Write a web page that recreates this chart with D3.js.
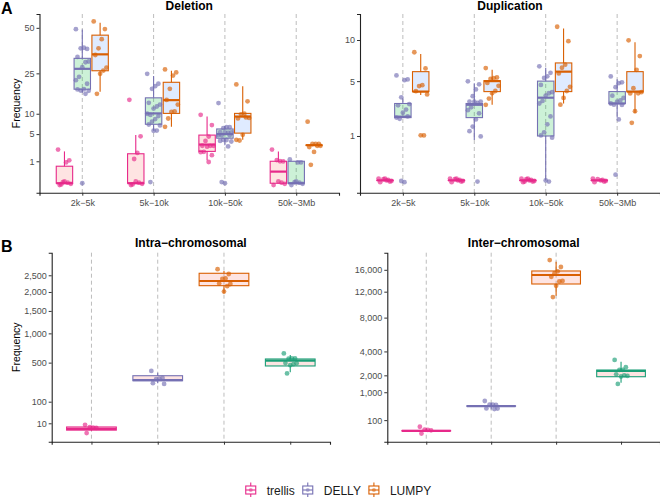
<!DOCTYPE html>
<html>
<head>
<meta charset="utf-8">
<script src="https://cdn.jsdelivr.net/npm/d3@7"></script>
<style>
  body { margin: 0; background: #fff; }
  svg { display: block; font-family: "Liberation Sans", Arial, sans-serif; }
</style>
</head>
<body>
<svg id="chart" width="660" height="498"></svg>
<script>
// categories
var sizeBins = ["2k\u22125k", "5k\u221210k", "10k\u221250k", "50k\u22123Mb"];
var methods = ["trellis", "DELLY", "LUMPY"];
var methodsB = ["trellis", "DELLY", "LUMPY", "method4"];

// tick labels
var delTicks = [1, 5, 10, 25, 50];
var dupTicks = [1, 5, 10];
var intraTicks = [10, 100, 500, 1000, 1500, 2000, 2500];
var interTicks = [100, 1000, 2000, 4000, 8000, 12000, 16000];

// box stats per size bin: [lower whisker, q1, median, q3, upper whisker]
var delBoxTrellis = [[0, 0, 0, 0.6, 2.1], [0, 0, 0, 1.8, 4.8], [1.1, 2.1, 3.1, 4.8, 9.2], [0, 0, 0.28, 1.0, 2.1]];
var delBoxDelly   = [[17, 18.3, 27.1, 32.3, 49], [5.7, 7.2, 10.1, 15.1, 23.8], [3.0, 4.2, 5.0, 6.1, 6.8], [0, 0, 0, 1.0, 1.0]];
var delBoxLumpy   = [[17.3, 26.2, 34.4, 45.4, 53.3], [6.6, 10.1, 14.3, 21.1, 26.2], [3.9, 5.2, 9.2, 10.1, 19.5], [3, 3, 3, 3, 3]];

var delPtsTrellis = [[2.1, 1.2, 0.9, 0, 0, 0, 0, 0, 0], [13.8, 4.8, 1.9, 1.1, 0, 0, 0, 0, 0],
                     [9.2, 7.3, 4.5, 3.5, 3.2, 3, 2.8, 2.5, 2.2, 2, 1.5, 1.1], [2.1, 1.1, 1.0, 1.0, 0, 0, 0, 0]];
var delPtsDelly   = [[48, 38, 38, 37, 34, 31, 30, 27, 24, 22, 20, 19, 18, 18, 17, 17, 0],
                     [24, 21, 19.5, 18, 14, 13, 12, 11, 10, 10, 9, 9, 8, 7, 6.5, 6, 5.7, 0],
                     [12.7, 6.8, 6.5, 6, 5.8, 5.5, 5.2, 5, 5, 4.8, 4.5, 4.2, 4, 3.6, 3.3, 3, 0, 0],
                     [1.0, 1.0, 0.9, 0, 0, 0, 0, 0]];
var delPtsLumpy   = [[53, 50, 43, 37, 35, 28, 26, 24, 17], [26, 26, 24, 18, 15, 13, 10.5, 10, 9, 6.6],
                     [19.5, 14.3, 10, 9.5, 9.2, 9, 8.8, 4.5, 4, 3.9], [7.4, 3.4, 3.2, 3, 3, 3, 2.8, 1.8, 0.8]];

var dupBoxTrellis = [[0, 0, 0, 0, 0], [0, 0, 0, 0, 0], [0, 0, 0, 0, 0], [0, 0, 0, 0, 0]];
var dupBoxDelly   = [[2.0, 2.0, 2.06, 3.0, 3.4], [0.83, 2.0, 2.9, 3.0, 4.8], [0, 1.0, 3.47, 5.0, 6.45], [2.0, 3.0, 3.0, 4.0, 5.2]];
var dupBoxLumpy   = [[3.7, 4.0, 4.0, 6.0, 8.1], [2.9, 4.0, 5.0, 5.05, 6.2], [3.0, 4.0, 6.0, 7.0, 11.7], [2.3, 4.0, 4.0, 6.0, 9.7]];

var dupPtsTrellis = [[0, 0, 0, 0, 0, 0, 0, 0], [0, 0, 0, 0, 0, 0, 0, 0], [0, 0, 0, 0, 0, 0, 0, 0, 0], [0, 0, 0, 0, 0, 0, 0]];
var dupPtsDelly   = [[5.4, 5.3, 5.1, 3.4, 3.0, 3.0, 2.5, 2.2, 2.0, 2.0, 2.0, 0, 0],
                     [4.8, 4.8, 4.2, 3.5, 3.3, 3.2, 3.0, 3.0, 2.8, 2.5, 2.2, 2.0, 1.5, 1.2, 0.9, 0],
                     [6.4, 6.0, 5.5, 5.2, 4.8, 4.0, 3.8, 3.5, 3.3, 3.0, 2.0, 1.7, 1.2, 1.0, 0.85, 0, 0],
                     [5.3, 5.0, 4.8, 4.3, 3.8, 3.5, 3.2, 3.0, 3.0, 3.0, 2.8, 2.0, 0.02]];
var dupPtsLumpy   = [[8.1, 6.5, 4.6, 4.4, 4.2, 3.8, 1.0, 0.95], [6.2, 5.5, 5.3, 5.1, 5.0, 4.6, 4.0, 3.7, 3.5, 2.9],
                     [11.7, 10.0, 6.8, 6.3, 6.0, 4.5, 4.0, 3.3, 3.0], [9.7, 8.0, 6.2, 4.2, 4.0, 4.0, 3.8, 2.3, 1.75]];

// panel B: one box per method
var intraBox = [[0.5, 1, 2, 4, 5], [250, 277, 284, 332, 368], [1960, 2182, 2323, 2564, 2640], [373, 454, 528, 553, 614]];
var intraPts = [[4.5, 4.4, 3.3, 2.5, 0.4], [368, 320, 300, 280, 270, 250],
                [2640, 2580, 2400, 2350, 2300, 2250, 2150, 1960], [610, 580, 560, 540, 520, 500, 470, 440, 373]];
var interBox = [[1, 2.5, 3, 4, 12], [330, 430, 438, 445, 550], [11330, 13340, 15000, 15770, 17620], [1520, 1905, 2310, 2385, 3055]];
var interPts = [[12, 9, 6, 3, 1], [550, 520, 480, 440, 420, 380, 330],
                [17600, 16800, 15700, 15100, 15000, 14000, 13700, 12700, 11300],
                [3050, 2700, 2400, 2300, 2200, 2000, 1950, 1800, 1520]];

var lineCol = {trellis: "#E7298A", DELLY: "#7570B3", LUMPY: "#D95F02", method4: "#1B9E77"};
var fillCol = {trellis: "#F8766D", DELLY: "#00BA38", LUMPY: "#619CFF"};

var svg = d3.select("#chart");
var fmt = d3.format(",");

// deterministic little spread so points don't sit on one line
function jit(i) { return ((i * 7) % 9 - 4) * 1.6; }
function jitY(i) { return ((i * 5) % 7 - 3) * 0.6; }

function drawPanel(p) {
  var g = svg.append("g");
  var x = d3.scalePoint().domain(p.cats).range([p.x0, p.x1]).padding(0.6);
  var y = d3.scaleSqrt().domain(p.domain).range([p.y1, p.y0]);
  var step = x.step();

  // dashed guides
  g.selectAll("line.guide")
    .data(p.guides)
    .enter().append("line")
    .attr("x1", function(d) { return x(d); })
    .attr("x2", function(d) { return x(d); })
    .attr("y1", p.y0).attr("y2", p.y1)
    .attr("stroke", "#bdbdbd")
    .attr("stroke-width", 1)
    .attr("stroke-dasharray", "4,3");

  p.groups.forEach(function(gr) {
    var cx = x(gr.cat) + gr.off * step;
    var w = gr.w * step;
    var s = gr.stats;
    var col = lineCol[gr.method];
    // whiskers
    g.append("line").attr("x1", cx).attr("x2", cx).attr("y1", y(s[0])).attr("y2", y(s[1]))
      .attr("stroke", col).attr("stroke-width", 1.1);
    g.append("line").attr("x1", cx).attr("x2", cx).attr("y1", y(s[3])).attr("y2", y(s[4]))
      .attr("stroke", col).attr("stroke-width", 1.1);
    // box
    g.append("rect")
      .attr("x", cx - w / 2).attr("width", w)
      .attr("y", y(s[3])).attr("height", Math.max(0.01, y(s[1]) - y(s[3])))
      .attr("fill", gr.fill).attr("fill-opacity", 0.2)
      .attr("stroke", col).attr("stroke-width", 1.1);
    // median
    g.append("line").attr("x1", cx - w / 2).attr("x2", cx + w / 2)
      .attr("y1", y(s[2])).attr("y2", y(s[2]))
      .attr("stroke", col).attr("stroke-width", 2.2);
    // points
    g.selectAll(null)
      .data(gr.pts)
      .enter().append("circle")
      .attr("cx", function(d, i) { return cx + jit(i); })
      .attr("cy", function(d, i) { return y(d) + jitY(i); })
      .attr("r", 2.4)
      .attr("fill", col)
      .attr("fill-opacity", 0.65);
  });

  // axes
  var ya = g.append("g").attr("transform", "translate(" + p.x0 + ",0)")
    .call(d3.axisLeft(y).tickValues(p.ticks).tickFormat(fmt).tickSizeOuter(0).tickSize(3).tickPadding(2));
  var xa = g.append("g").attr("transform", "translate(0," + p.y1 + ")")
    .call(d3.axisBottom(x).tickSizeOuter(0).tickSize(3).tickPadding(4)
      .tickFormat(p.xLabels ? null : function() { return ""; }));
  [ya, xa].forEach(function(a) {
    a.select(".domain").attr("stroke", "#222").attr("stroke-width", 1.1);
    a.selectAll(".tick line").attr("stroke", "#333");
    a.selectAll(".tick text").attr("fill", "#4d4d4d").attr("font-size", 9)
      .attr("font-family", "Liberation Sans, Arial, sans-serif");
  });

  svg.append("text")
    .attr("x", (p.x0 + p.x1) / 2).attr("y", p.titleY)
    .attr("text-anchor", "middle")
    .attr("font-size", 12).attr("font-weight", "bold")
    .text(p.title);

  if (p.yTitle) {
    svg.append("text")
      .attr("transform", "translate(20," + (p.y0 + p.y1) / 2 + ") rotate(-90)")
      .attr("text-anchor", "middle")
      .attr("font-size", 10.5)
      .text("Frequency");
  }
}

function groupsA(boxes, pts) {
  var out = [];
  methods.forEach(function(m, mi) {
    sizeBins.forEach(function(c, ci) {
      out.push({cat: c, method: m, off: (mi - 1) * 0.25, w: 0.23,
                stats: boxes[mi][ci], pts: pts[mi][ci], fill: fillCol[m]});
    });
  });
  return out;
}

function groupsB(boxes, pts) {
  return methodsB.map(function(m, i) {
    return {cat: m, method: m, off: 0, w: 0.75, stats: boxes[i], pts: pts[i], fill: fillCol.trellis};
  });
}

drawPanel({
  x0: 39.5, x1: 339, y0: 14, y1: 192.7, cats: sizeBins, guides: sizeBins,
  domain: [-0.185, 59.3], ticks: delTicks, title: "Deletion", titleY: 10, yTitle: true, xLabels: true,
  groups: groupsA([delBoxTrellis, delBoxDelly, delBoxLumpy], [delPtsTrellis, delPtsDelly, delPtsLumpy])
});
drawPanel({
  x0: 360, x1: 660, y0: 14, y1: 192.7, cats: sizeBins, guides: sizeBins,
  domain: [-0.077, 14.05], ticks: dupTicks, title: "Duplication", titleY: 10, yTitle: false, xLabels: true,
  groups: groupsA([dupBoxTrellis, dupBoxDelly, dupBoxLumpy], [dupPtsTrellis, dupPtsDelly, dupPtsLumpy])
});
drawPanel({
  x0: 51.7, x1: 330, y0: 252.7, y1: 441.7, cats: methodsB, guides: methodsB.slice(0, 3),
  domain: [-7.07, 3266], ticks: intraTicks, title: "Intra\u2212chromosomal", titleY: 246.5, yTitle: true, xLabels: false,
  groups: groupsB(intraBox, intraPts)
});
drawPanel({
  x0: 387.3, x1: 660, y0: 252.7, y1: 441.7, cats: methodsB, guides: methodsB.slice(0, 3),
  domain: [-45, 19530], ticks: interTicks, title: "Inter\u2212chromosomal", titleY: 246.5, yTitle: false, xLabels: false,
  groups: groupsB(interBox, interPts)
});

// panel tags
svg.append("text").attr("x", 1).attr("y", 13.5).attr("font-size", 16).attr("font-weight", "bold").text("A");
svg.append("text").attr("x", 1).attr("y", 252).attr("font-size", 16).attr("font-weight", "bold").text("B");

// legend
var leg = svg.append("g");
var lx = 0;
methods.forEach(function(m) {
  var it = leg.append("g").attr("transform", "translate(" + lx + ",0)");
  var col = lineCol[m];
  it.append("line").attr("x1", 5).attr("x2", 5).attr("y1", 482.5).attr("y2", 497).attr("stroke", col).attr("stroke-width", 1.1);
  it.append("rect").attr("x", 0).attr("y", 486).attr("width", 10).attr("height", 8)
    .attr("fill", "#fff").attr("stroke", col).attr("stroke-width", 1.1);
  it.append("line").attr("x1", 0).attr("x2", 10).attr("y1", 490).attr("y2", 490).attr("stroke", col).attr("stroke-width", 1.1);
  it.append("circle").attr("cx", 5).attr("cy", 490).attr("r", 2).attr("fill", col).attr("fill-opacity", 0.5);
  var t = it.append("text").attr("x", 21).attr("y", 495).attr("font-size", 12).attr("fill", "#1a1a1a").text(m);
  lx += 21 + t.node().getComputedTextLength() + 8;
});
var lw = lx - 8;
leg.attr("transform", "translate(" + (338.5 - lw / 2) + ",0)");
</script>
</body>
</html>
